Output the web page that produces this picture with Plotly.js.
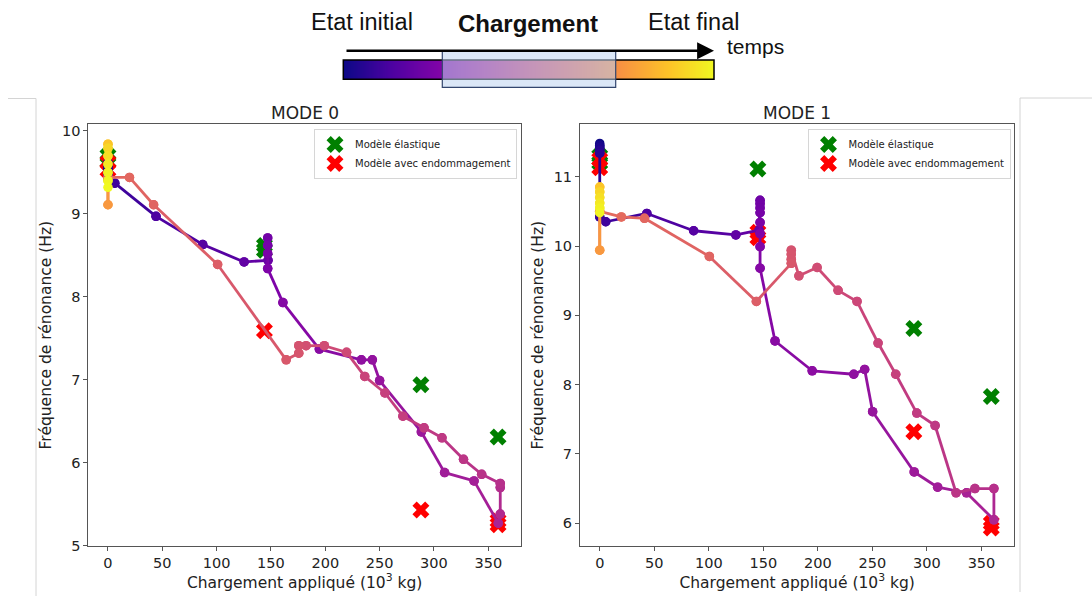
<!DOCTYPE html>
<html><head><meta charset="utf-8">
<script src="https://cdn.plot.ly/plotly-3.0.1.min.js"></script>
<style>html,body{margin:0;padding:0;background:#fff}#chart{width:1092px;height:596px}</style>
</head><body><div id="chart"></div>
<script>
// ---------- data ----------
const tickLoads = [0, 50, 100, 150, 200, 250, 300, 350];
const mode0FreqTicks = [5, 6, 7, 8, 9, 10];
const mode1FreqTicks = [6, 7, 8, 9, 10, 11];

// MODE 0 measured (load 10^3 kg, frequency Hz, time position 0..1 along the test)
const mode0Load = [0,0,0,0,0,0,6.3,44.2,87.2,125.3,147.3,147,147,147,147,161,194.5,233.2,243.3,250,288.4,309.8,336.9,359.2,361,361,361,343.9,327.2,307.4,290.9,271.4,254.9,236.3,219.6,199.1,182.3,175.6,175.6,164,100.9,42,19.8,0,0,0,0,0,0,0,0,0];
const mode0Freq = [9.62,9.58,9.54,9.50,9.46,9.42,9.37,8.97,8.63,8.42,8.44,8.71,8.62,8.52,8.34,7.93,7.37,7.24,7.24,6.99,6.37,5.88,5.78,5.27,5.38,5.70,5.75,5.86,6.04,6.30,6.42,6.56,6.84,7.04,7.33,7.41,7.41,7.41,7.32,7.24,8.39,9.11,9.44,9.44,9.11,9.84,9.79,9.70,9.60,9.50,9.40,9.32];
const mode0Time = [0.00,0.02,0.04,0.05,0.06,0.08,0.10,0.13,0.15,0.18,0.20,0.22,0.23,0.24,0.25,0.27,0.28,0.30,0.31,0.32,0.33,0.35,0.36,0.38,0.40,0.41,0.42,0.43,0.44,0.45,0.46,0.47,0.48,0.49,0.51,0.52,0.53,0.54,0.55,0.56,0.58,0.60,0.61,0.64,0.76,0.88,0.92,0.94,0.96,0.98,0.99,1.00];

// MODE 1 measured
const mode1Load = [0,0,0,0,0,0,5.5,43.2,86.1,124.8,146.1,147,147,147,147,147,147,147,147,160.7,194.8,232.9,242.9,250.2,288.3,309.8,336.3,361.4,361.4,344,326.7,307.5,290.7,271.4,255.2,235.9,218.5,199.3,182.6,175.6,175.6,175.6,175.6,143.6,100.5,41,19.8,0,0,0,0,0,0,0,0];
const mode1Freq = [11.48,11.45,11.42,11.38,11.34,10.42,10.35,10.47,10.22,10.16,10.23,10.66,10.61,10.55,10.48,10.34,10.18,9.99,9.68,8.63,8.20,8.15,8.22,7.61,6.74,6.52,6.44,6.05,6.50,6.50,6.44,7.41,7.59,8.15,8.60,9.20,9.36,9.69,9.57,9.94,9.88,9.81,9.75,9.20,9.85,10.40,10.42,10.50,9.94,10.85,10.78,10.70,10.62,10.55,10.48,10.42];
const mode1Time = [0.00,0.02,0.03,0.05,0.06,0.08,0.10,0.13,0.15,0.18,0.20,0.21,0.22,0.22,0.23,0.24,0.25,0.26,0.27,0.28,0.29,0.30,0.31,0.32,0.34,0.35,0.37,0.39,0.42,0.43,0.44,0.45,0.46,0.48,0.49,0.50,0.51,0.52,0.53,0.54,0.55,0.55,0.56,0.58,0.60,0.61,0.62,0.65,0.76,0.88,0.92,0.94,0.96,0.98,0.99,1.00];

// Model predictions
const mode0ElasticLoad = [0, 0, 144, 144, 288, 359];
const mode0ElasticFreq = [9.70, 9.63, 8.62, 8.56, 6.94, 6.31];
const mode0DamageLoad = [0, 0, 144, 288, 359, 359];
const mode0DamageFreq = [9.62, 9.53, 7.59, 5.43, 5.30, 5.25];
const mode1ElasticLoad = [0, 0, 145, 288, 359];
const mode1ElasticFreq = [11.30, 11.20, 11.11, 8.81, 7.83];
const mode1DamageLoad = [0, 0, 145, 145, 288, 359, 359];
const mode1DamageFreq = [11.25, 11.13, 10.20, 10.12, 7.32, 6.00, 5.93];

const legendNames = ['Modèle élastique', 'Modèle avec endommagement'];
const subplotTitles = ['MODE 0', 'MODE 1'];
const headerLabels = ['Etat initial', 'Chargement', 'Etat final', 'temps'];
const timeBand = [0, 0.1, 0.2, 0.3, 0.4, 0.5, 0.6, 0.7, 0.8, 0.9, 1.0];

// ---------- colormap (matplotlib plasma) ----------
const plasmaStops = [
  [0.0, '#0d0887'], [0.125, '#4c02a1'], [0.25, '#7e03a8'], [0.375, '#a92395'],
  [0.5, '#cc4778'], [0.625, '#e56b5d'], [0.75, '#f89441'], [0.875, '#fdc328'], [1.0, '#f0f921']
];
function hexToRgb(h){return [parseInt(h.slice(1,3),16),parseInt(h.slice(3,5),16),parseInt(h.slice(5,7),16)];}
function plasma(t){
  t = Math.max(0, Math.min(1, t));
  for (let i = 0; i < plasmaStops.length - 1; i++) {
    const [a, ca] = plasmaStops[i], [b, cb] = plasmaStops[i+1];
    if (t <= b) {
      const f = (t - a) / (b - a), A = hexToRgb(ca), B = hexToRgb(cb);
      return 'rgb(' + A.map((v, k) => Math.round(v + (B[k] - v) * f)).join(',') + ')';
    }
  }
  return plasmaStops[plasmaStops.length-1][1];
}

// ---------- traces ----------
const traces = [];
function addModel(load, freq, color, name, xa, ya, legend) {
  traces.push({type:'scatter', mode:'markers', x:load, y:freq, name:name, xaxis:xa, yaxis:ya,
    legend:legend, showlegend:true, hoverinfo:'skip',
    marker:{symbol:'x', size:15, color:color, line:{width:0}}});
}
function addMeasured(load, freq, time, xa, ya) {
  for (let i = 0; i < load.length - 1; i++) {
    traces.push({type:'scatter', mode:'lines+markers', x:[load[i], load[i+1]], y:[freq[i], freq[i+1]],
      xaxis:xa, yaxis:ya, showlegend:false, hoverinfo:'skip',
      line:{color:plasma(time[i]), width:2.8},
      marker:{size:9.5, color:[plasma(time[i]), plasma(time[i+1])]}});
  }
}
addModel(mode0ElasticLoad, mode0ElasticFreq, '#008000', legendNames[0], 'x', 'y', 'legend');
addModel(mode0DamageLoad, mode0DamageFreq, '#ff0000', legendNames[1], 'x', 'y', 'legend');
addMeasured(mode0Load, mode0Freq, mode0Time, 'x', 'y');
addModel(mode1ElasticLoad, mode1ElasticFreq, '#008000', legendNames[0], 'x2', 'y2', 'legend2');
addModel(mode1DamageLoad, mode1DamageFreq, '#ff0000', legendNames[1], 'x2', 'y2', 'legend2');
addMeasured(mode1Load, mode1Freq, mode1Time, 'x2', 'y2');

// header time band
traces.push({type:'heatmap', z:[timeBand, timeBand], xaxis:'x3', yaxis:'y3', zsmooth:'best',
  zmin:0, zmax:1, showscale:false, hoverinfo:'skip',
  colorscale: plasmaStops});

// ---------- layout ----------
const W = 1092, H = 596;
const px = v => v / W, py = v => 1 - v / H;
const tickFont = {family:'DejaVu Sans', size:14.5, color:'#222'};
const titleFont = {family:'DejaVu Sans', size:15.5, color:'#222'};
function xAxis(dom, anchor) {
  return {domain:[px(dom[0]), px(dom[1])], anchor:anchor, range:[-18.1, 380.1], tickvals:tickLoads,
    showline:true, mirror:true, linecolor:'#555', linewidth:1, ticks:'outside', ticklen:4, tickcolor:'#555',
    showgrid:false, zeroline:false, tickfont:tickFont, fixedrange:true,
    title:{text:'Chargement appliqué (10<sup>3</sup> kg)', font:titleFont, standoff:2}};
}
function yAxis(range, ticks, anchor) {
  return {domain:[py(546), py(124.3)], anchor:anchor, range:range, tickvals:ticks,
    showline:true, mirror:true, linecolor:'#555', linewidth:1, ticks:'outside', ticklen:4, tickcolor:'#555',
    showgrid:false, zeroline:false, tickfont:tickFont, fixedrange:true,
    title:{text:'Fréquence de rénonance (Hz)', font:titleFont, standoff:6}};
}
function legendBox(right) {
  return {x:px(right), xanchor:'right', y:py(129), yanchor:'top', bgcolor:'rgba(255,255,255,0.85)',
    bordercolor:'#d6d6d6', borderwidth:1, font:{family:'DejaVu Sans', size:10, color:'#222'},
    tracegroupgap:0, itemwidth:30};
}
function note(text, x, y, font) {
  return {text:text, x:px(x), y:py(y), xref:'paper', yref:'paper', xanchor:'center', yanchor:'middle',
    showarrow:false, font:font};
}
const hdrFont = {family:'Liberation Sans', size:23.5, color:'#111'};
const layout = {
  width:W, height:H, margin:{l:0, r:0, t:0, b:0}, paper_bgcolor:'#fff', plot_bgcolor:'#fff',
  showlegend:true, font:tickFont,
  xaxis: xAxis([88.3, 521], 'y'),
  yaxis: yAxis([4.995, 10.08], mode0FreqTicks, 'x'),
  xaxis2: xAxis([580, 1014.3], 'y2'),
  yaxis2: yAxis([5.672, 11.756], mode1FreqTicks, 'x2'),
  xaxis3: {domain:[px(343.3), px(714)], anchor:'y3', range:[0, timeBand.length - 1], visible:false, fixedrange:true},
  yaxis3: {domain:[py(79.3), py(60)], anchor:'x3', range:[-0.5, 1.5], visible:false, fixedrange:true},
  legend: legendBox(517),
  legend2: legendBox(1010.5),
  annotations: [
    note(subplotTitles[0], 304.7, 113, {family:'DejaVu Sans', size:17, color:'#222'}),
    note(subplotTitles[1], 797, 113, {family:'DejaVu Sans', size:17, color:'#222'}),
    note(headerLabels[0], 362, 22, hdrFont),
    note('<b>' + headerLabels[1] + '</b>', 528, 24, {family:'Liberation Sans', size:24, color:'#111'}),
    note(headerLabels[2], 693, 22, hdrFont),
    note(headerLabels[3], 755, 46, {family:'Liberation Sans', size:21, color:'#111'}),
    {text:'', x:px(714), y:py(50.7), xref:'paper', yref:'paper', showarrow:true, ax:-369, ay:0,
      arrowhead:2, arrowsize:1.3, arrowwidth:2.6, arrowcolor:'#000', standoff:0, startstandoff:0}
  ],
  shapes: [
    {type:'rect', xref:'paper', yref:'paper', x0:px(343.3), x1:px(714), y0:py(79.3), y1:py(60),
      line:{color:'#000', width:1.5}, fillcolor:'rgba(0,0,0,0)'},
    {type:'rect', xref:'paper', yref:'paper', x0:px(442.3), x1:px(615.7), y0:py(87.3), y1:py(50.7),
      line:{color:'#33466e', width:1.2}, fillcolor:'rgba(190,212,240,0.55)'},
    {type:'line', xref:'paper', yref:'paper', x0:px(8), x1:px(36), y0:py(98.5), y1:py(98.5), line:{color:'#d4d4d4', width:1}},
    {type:'line', xref:'paper', yref:'paper', x0:px(36), x1:px(36), y0:py(98.5), y1:py(596), line:{color:'#d4d4d4', width:1}},
    {type:'line', xref:'paper', yref:'paper', x0:px(1020), x1:px(1092), y0:py(98), y1:py(98), line:{color:'#d4d4d4', width:1}},
    {type:'line', xref:'paper', yref:'paper', x0:px(1020), x1:px(1020), y0:py(98), y1:py(592), line:{color:'#d4d4d4', width:1}}
  ]
};
Plotly.newPlot('chart', traces, layout, {displayModeBar:false, staticPlot:true});
</script>
</body></html>
